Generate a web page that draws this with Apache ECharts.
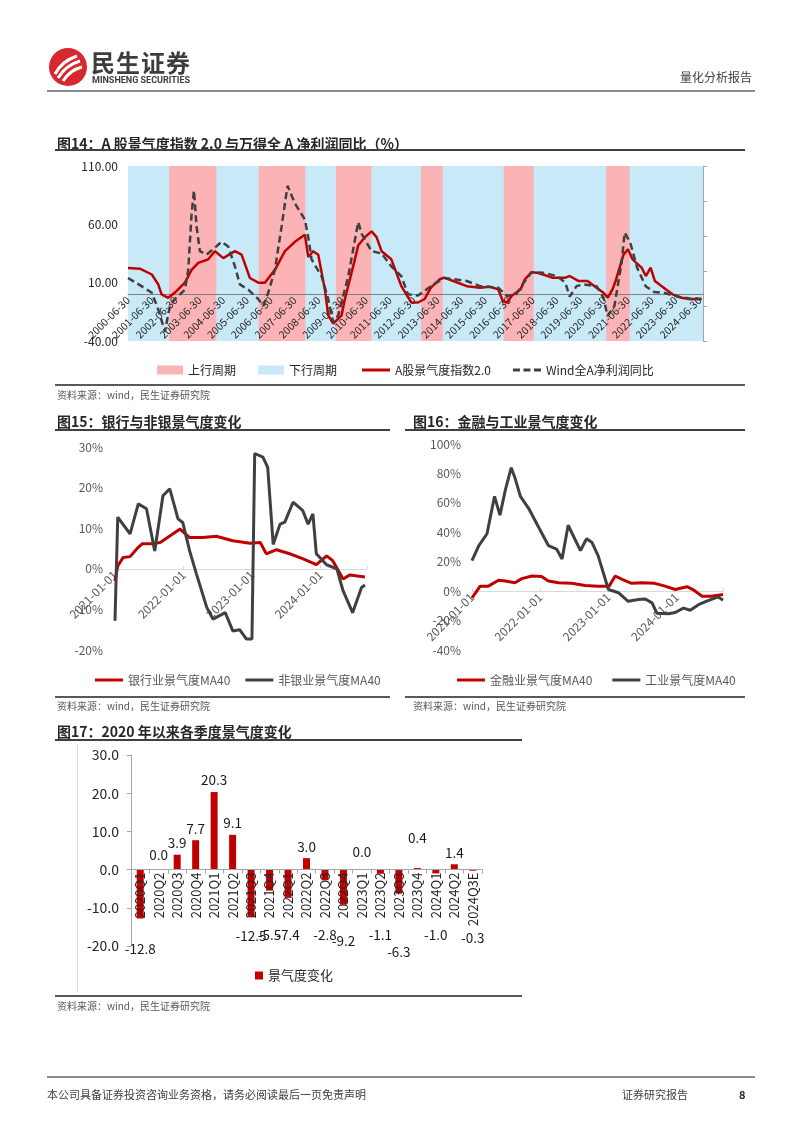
<!DOCTYPE html>
<html><head><meta charset="utf-8">
<script src="https://cdn.jsdelivr.net/npm/echarts/dist/echarts.min.js"></script>
<style>
body{margin:0;width:802px;height:1133px;position:relative;background:#fff;font-family:"Noto Sans CJK SC","Noto Sans",sans-serif;overflow:hidden}
#c{position:absolute;left:0;top:0;width:802px;height:1133px}
.t{position:absolute;white-space:nowrap;line-height:1;z-index:5}
.ln{position:absolute;z-index:5}
.ttl{font-weight:bold;font-size:14px;color:#262626}
.src{font-size:10px;color:#595959}
</style></head>
<body>
<div id="c"></div>
<svg class="ln" style="left:48px;top:47px" width="40" height="40" viewBox="0 0 40 40">
<circle cx="20" cy="20" r="19" fill="#D7282F"/>
<path d="M7 27 Q14 14 29 9" stroke="#fff" stroke-width="3" fill="none"/>
<path d="M10 31 Q18 18 32 14" stroke="#fff" stroke-width="3" fill="none"/>
<path d="M15 34 Q22 23 34 20" stroke="#fff" stroke-width="3" fill="none"/>
</svg>
<div class="t" style="left:91px;top:50px;font-size:24px;font-weight:bold;color:#3d3d3d;letter-spacing:1px">民生证券</div>
<div class="t" style="left:92px;top:76px;font-size:9px;font-weight:bold;color:#3d3d3d;font-family:Roboto,sans-serif">MINSHENG SECURITIES</div>
<div class="t" style="left:680px;top:71px;font-size:12px;color:#404040">量化分析报告</div>
<div class="ln" style="left:47px;top:90px;width:708px;height:2px;background:#8c8c8c"></div>

<div class="t ttl" style="left:57px;top:136px">图14：A 股景气度指数 2.0 与万得全 A 净利润同比（%）</div>
<div class="ln" style="left:55px;top:149px;width:690px;height:1.5px;background:#404040"></div>
<div class="ln" style="left:55px;top:384px;width:690px;height:1.5px;background:#595959"></div>
<div class="t src" style="left:57px;top:390px">资料来源：wind，民生证券研究院</div>

<div class="t ttl" style="left:57px;top:414px">图15：银行与非银景气度变化</div>
<div class="ln" style="left:55px;top:429px;width:335px;height:1.5px;background:#404040"></div>
<div class="ln" style="left:55px;top:696px;width:335px;height:1.5px;background:#595959"></div>
<div class="t src" style="left:57px;top:701px">资料来源：wind，民生证券研究院</div>

<div class="t ttl" style="left:413px;top:414px">图16：金融与工业景气度变化</div>
<div class="ln" style="left:405px;top:429px;width:340px;height:1.5px;background:#404040"></div>
<div class="ln" style="left:405px;top:696px;width:340px;height:1.5px;background:#595959"></div>
<div class="t src" style="left:413px;top:701px">资料来源：wind，民生证券研究院</div>

<div class="t ttl" style="left:57px;top:724px">图17：2020 年以来各季度景气度变化</div>
<div class="ln" style="left:55px;top:739px;width:467px;height:1.5px;background:#404040"></div>
<div class="ln" style="left:77px;top:745px;width:1px;height:248px;background:#d9d9d9"></div>
<div class="ln" style="left:55px;top:995px;width:467px;height:1.5px;background:#595959"></div>
<div class="t src" style="left:57px;top:1001px">资料来源：wind，民生证券研究院</div>

<div class="ln" style="left:47px;top:1076px;width:708px;height:1.5px;background:#8c8c8c"></div>
<div class="t" style="left:47px;top:1089px;font-size:11px;color:#404040">本公司具备证券投资咨询业务资格，请务必阅读最后一页免责声明</div>
<div class="t" style="left:622px;top:1089px;font-size:11px;color:#404040">证券研究报告</div>
<div class="t" style="left:739px;top:1089px;font-size:11px;color:#262626;font-weight:bold">8</div>

<script>
// ---------- Chart 14 data (decimal years) ----------
const upCycles = [[2002.23,2004.21],[2005.99,2007.95],[2009.23,2010.72],[2012.80,2013.72],[2016.28,2017.54],[2020.58,2021.57]];
const idxDates = [2000.50,2001.00,2001.50,2001.77,2001.91,2002.19,2002.47,2002.89,2003.17,2003.45,2003.87,2004.15,2004.50,2004.99,2005.27,2005.62,2005.97,2006.25,2006.67,2007.09,2007.51,2007.93,2008.07,2008.28,2008.49,2008.77,2008.91,2009.12,2009.47,2009.61,2010.03,2010.17,2010.45,2010.73,2010.94,2011.15,2011.56,2011.98,2012.40,2012.68,2012.96,2013.22,2013.59,2013.78,2014.16,2014.73,2015.29,2015.67,2016.05,2016.24,2016.42,2016.61,2016.99,2017.17,2017.45,2017.65,2017.93,2018.31,2018.87,2019.05,2019.43,2019.80,2020.18,2020.47,2020.65,2020.85,2020.98,2021.31,2021.50,2021.69,2022.07,2022.25,2022.45,2022.63,2023.00,2023.37,2023.75,2024.13,2024.59];
const idxValues = [22.5,22,17,8.5,0,-3,1.5,10,21,27,30,37,31,37,34,14,10,10,21,37,45,51,32,37,34,4,-18,-25,-18,-4,30,42,49,54,49,37,30,7,-7,-7,-4,5.7,12.9,14.3,11.4,7,5.7,6.6,4.3,-5.7,-7,-1.4,4.3,12.9,19,18.6,17,14.3,14.3,15.7,11.4,11.4,5.7,1.4,-2.9,4.3,11.4,34,38.6,30,22.9,15.7,22.9,11.4,5.7,0,-2.9,-4.3,-3.7];
const windDates = [2000.50,2001.07,2001.50,2001.77,2002.05,2002.26,2002.47,2002.89,2003.03,2003.17,2003.27,2003.38,2003.52,2003.80,2004.15,2004.43,2004.71,2004.99,2005.20,2005.55,2005.97,2006.18,2006.39,2006.67,2006.95,2007.20,2007.51,2007.93,2008.07,2008.21,2008.63,2008.91,2009.12,2009.33,2009.75,2010.17,2010.31,2010.73,2011.15,2011.56,2011.98,2012.26,2012.68,2012.96,2013.22,2013.78,2014.16,2014.73,2015.29,2016.05,2016.42,2016.80,2017.17,2017.45,2017.93,2018.50,2018.87,2019.05,2019.34,2019.62,2020.18,2020.47,2020.64,2020.93,2021.23,2021.36,2021.60,2021.88,2022.24,2022.60,2023.00,2023.58,2024.13,2024.59];
const windValues = [14,7,1.4,-13,-32,-10,-4,4,21,69,89,58,37,34,40,45,41,24,8.5,4,-4,-10,1.4,21,58,93,78,64,49,30,15.5,-4,-24,-18,15.5,62,52,37,35,24,15.5,0,-1,3,7,14,13,11.4,7,5.7,-1.4,0,11.4,19,18.6,15.7,10,-2,7,8.6,7,-2.9,-18.6,-10,27,53,44,23,7,2,1.4,-2,-3.7,-4.3];

// ---------- Chart 15 data ----------
const bankDates = [2021.00,2021.04,2021.12,2021.22,2021.34,2021.40,2021.55,2021.66,2021.95,2022.09,2022.28,2022.48,2022.72,2022.97,2023.12,2023.21,2023.36,2023.55,2023.74,2023.94,2024.09,2024.18,2024.33,2024.43,2024.65];
const bankValues = [-3,0.7,2.8,3,5.3,6.2,6.2,6.5,9.8,7.7,7.7,8,6.9,6.3,6.5,3.7,4.7,3.7,2.5,1,3.2,2,-2.5,-1.5,-2];
const nonbankDates = [2021.00,2021.04,2021.22,2021.34,2021.46,2021.58,2021.70,2021.80,2021.92,2021.99,2022.09,2022.19,2022.34,2022.43,2022.61,2022.72,2022.82,2022.92,2023.00,2023.04,2023.16,2023.23,2023.31,2023.41,2023.48,2023.60,2023.74,2023.82,2023.89,2023.94,2024.09,2024.24,2024.33,2024.47,2024.60,2024.65];
const nonbankValues = [-12.8,12.7,8.6,16,14.8,4.4,18,19.7,12.3,11.4,4.4,-1.3,-9.5,-12.4,-10.8,-15.3,-15,-17.3,-17.3,28.4,27.5,25,6,11,11.5,16.4,14.4,11,13.5,3.7,1.0,0,-5.4,-10.8,-4.6,-4];

// ---------- Chart 16 data ----------
const finDates = [2021.00,2021.12,2021.24,2021.39,2021.49,2021.63,2021.73,2021.88,2022.02,2022.12,2022.27,2022.46,2022.66,2022.85,2023.01,2023.10,2023.20,2023.34,2023.49,2023.68,2023.83,2023.98,2024.15,2024.24,2024.37,2024.51,2024.68];
const finValues = [-4.6,3.4,3.4,7.4,6.9,5.7,8.5,10.3,9.9,6.9,5.7,5.3,3.9,3.4,3.4,10.3,8,5.3,5.7,5.3,3.4,1.1,3,1.1,-3.4,-3.4,-2.3];
const indDates = [2021.00,2021.10,2021.22,2021.33,2021.41,2021.49,2021.575,2021.63,2021.71,2021.83,2021.975,2022.12,2022.24,2022.32,2022.41,2022.59,2022.68,2022.76,2022.85,2023.00,2023.15,2023.29,2023.44,2023.54,2023.64,2023.71,2023.88,2023.98,2024.10,2024.20,2024.32,2024.46,2024.61,2024.68];
const indValues = [20.7,31,39,64.4,51.7,69,83.9,77,64.4,56.3,43.6,31,28.6,21.8,44.8,27.6,35.6,33,24,1.1,-1.1,-6.9,-5.7,-5.3,-8,-15,-15.4,-14.5,-11.5,-13,-9.2,-6.4,-3.9,-6.2];

// ---------- Chart 17 data ----------
const quarters = ['2020Q1','2020Q2','2020Q3','2020Q4','2021Q1','2021Q2','2021Q3','2021Q4','2022Q1','2022Q2','2022Q3','2022Q4','2023Q1','2023Q2','2023Q3','2023Q4','2024Q1','2024Q2','2024Q3E'];
const quarterChange = [-12.8,0.0,3.9,7.7,20.3,9.1,-12.5,-5.5,-7.4,3.0,-2.8,-9.2,0.0,-1.1,-6.3,0.4,-1.0,1.4,-0.3];

// ---------- helpers ----------
const base14 = 2000.5;
const zip = (xs, ys, off) => xs.map((x, i) => [+(x - (off||0)).toFixed(4), ys[i]]);
const isInt = v => Math.abs(v - Math.round(v)) < 1e-6;
const FONT = '"Noto Sans CJK SC","Noto Sans",sans-serif';
const RED = '#C00000', DARK = '#404040', PINK = '#FBB3B6', BLUE = '#C8EAF8';
const SOLID_ICON = 'path://M0,0H28V3H0Z';
const DASH_ICON = 'path://M0,0H7V3H0Z M10.5,0H17.5V3H10.5Z M21,0H28V3H21Z';

const chart = echarts.init(document.getElementById('c'), null, {renderer:'canvas'});

const lineAxisX = (gi, min, max, fmt, lineColor, fs, color) => ({
  type:'value', gridIndex:gi, min, max, interval:1, z:10,
  axisLine:{show:true, onZero:false, lineStyle:{color:lineColor, width:1}},
  axisTick:{show:false}, splitLine:{show:false},
  axisLabel:{rotate:45, fontSize:fs, color, margin:4, fontFamily:FONT, formatter:fmt}
});

const option = {
  animation:false,
  textStyle:{fontFamily:FONT},
  grid:[
    {left:128, top:166, width:575, height:175},
    {left:115, top:447, width:252, height:203},
    {left:472, top:444, width:251, height:206},
    {left:131, top:755, width:351, height:191}
  ],
  xAxis:[
    Object.assign(lineAxisX(0, 0, 24.15, v => isInt(v) ? (2000 + Math.round(v)) + '-06-30' : '', '#7f7f7f', 10.5, '#262626'),
      {z:3, axisLine:{show:true, onZero:false, lineStyle:{color:'#7f7f7f', width:1.2}}}),
    Object.assign(lineAxisX(1, 2021, 2024.68, v => isInt(v) ? Math.round(v) + '-01-01' : '', '#d9d9d9', 12, '#595959'),
      {z:0, axisTick:{show:true, inside:true, length:3, lineStyle:{color:'#d9d9d9'}}}),
    Object.assign(lineAxisX(2, 2021, 2024.68, v => isInt(v) ? Math.round(v) + '-01-01' : '', '#d9d9d9', 12, '#595959'),
      {z:0, axisTick:{show:true, inside:true, length:3, lineStyle:{color:'#d9d9d9'}}}),
    {type:'category', gridIndex:3, data:quarters, z:10,
     axisLine:{show:true, onZero:false, lineStyle:{color:'#a6a6a6'}},
     axisTick:{show:true, length:4, lineStyle:{color:'#a6a6a6'}},
     axisLabel:{rotate:90, interval:0, fontSize:13, color:'#262626', margin:3, fontFamily:FONT}}
  ],
  yAxis:[
    {type:'value', gridIndex:0, min:-40, max:110, interval:50,
     axisLine:{show:false}, axisTick:{show:false}, splitLine:{show:false},
     axisLabel:{fontSize:12, color:'#262626', margin:10, formatter:v => v.toFixed(2)}},
    {type:'value', gridIndex:0, position:'right', min:0, max:5, interval:1,
     axisLine:{show:true, lineStyle:{color:'#a6a6a6'}}, axisTick:{show:true, length:4, lineStyle:{color:'#a6a6a6'}},
     axisLabel:{show:false}, splitLine:{show:false}},
    {type:'value', gridIndex:1, min:-20, max:30, interval:10,
     axisLine:{show:false}, axisTick:{show:false}, splitLine:{show:false},
     axisLabel:{fontSize:12, color:'#595959', margin:12, formatter:v => v + '%'}},
    {type:'value', gridIndex:2, min:-40, max:100, interval:20,
     axisLine:{show:false}, axisTick:{show:false}, splitLine:{show:false},
     axisLabel:{fontSize:12, color:'#595959', margin:11, formatter:v => v + '%'}},
    {type:'value', gridIndex:3, min:-20, max:30, interval:10,
     axisLine:{show:true, lineStyle:{color:'#a6a6a6'}}, axisTick:{show:true, length:4, lineStyle:{color:'#a6a6a6'}},
     splitLine:{show:false},
     axisLabel:{fontSize:14, color:'#262626', margin:12, formatter:v => v.toFixed(1)}}
  ],
  legend:[
    {left:152, top:359, itemWidth:26, itemHeight:9, itemGap:22, icon:'rect',
     textStyle:{fontSize:12, color:'#262626'}, data:['上行周期','下行周期']},
    {left:357, top:359, itemWidth:28, itemHeight:3, itemGap:22,
     textStyle:{fontSize:12, color:'#262626'},
     data:[{name:'A股景气度指数2.0', icon:SOLID_ICON},{name:'Wind全A净利润同比', icon:DASH_ICON}]},
    {left:90, top:669, itemWidth:28, itemHeight:3, itemGap:15,
     textStyle:{fontSize:12, color:'#595959'},
     data:[{name:'银行业景气度MA40', icon:SOLID_ICON},{name:'非银业景气度MA40', icon:SOLID_ICON}]},
    {left:452, top:669, itemWidth:28, itemHeight:3, itemGap:20,
     textStyle:{fontSize:12, color:'#595959'},
     data:[{name:'金融业景气度MA40', icon:SOLID_ICON},{name:'工业景气度MA40', icon:SOLID_ICON}]},
    {left:250, top:964, itemWidth:8, itemHeight:8, icon:'rect',
     textStyle:{fontSize:13, color:'#262626'}, data:['景气度变化']}
  ],
  series:[
    {name:'下行周期', type:'line', xAxisIndex:0, yAxisIndex:0, data:[], z:1, color:BLUE, itemStyle:{color:BLUE},
     markArea:{silent:true, itemStyle:{color:BLUE, opacity:1}, data:[[{xAxis:0},{xAxis:24.15}]]}},
    {name:'上行周期', type:'line', xAxisIndex:0, yAxisIndex:0, data:[], z:2, color:PINK, itemStyle:{color:PINK},
     markArea:{silent:true, itemStyle:{color:PINK, opacity:1}, data:upCycles.map(c => [{xAxis:c[0]-base14},{xAxis:c[1]-base14}])}},
    {name:'A股景气度指数2.0', type:'line', xAxisIndex:0, yAxisIndex:0, z:4, showSymbol:false, symbol:'none',
     color:RED, lineStyle:{color:RED, width:2.5}, data:zip(idxDates, idxValues, base14)},
    {name:'Wind全A净利润同比', type:'line', xAxisIndex:0, yAxisIndex:0, z:5, showSymbol:false, symbol:'none',
     color:DARK, lineStyle:{color:DARK, width:2.5, type:[7,4]}, data:zip(windDates, windValues, base14)},

    {name:'银行业景气度MA40', type:'line', xAxisIndex:1, yAxisIndex:2, symbol:'none', color:RED,
     lineStyle:{color:RED, width:3}, data:zip(bankDates, bankValues)},
    {name:'非银业景气度MA40', type:'line', xAxisIndex:1, yAxisIndex:2, symbol:'none', color:DARK,
     lineStyle:{color:DARK, width:3}, data:zip(nonbankDates, nonbankValues)},

    {name:'金融业景气度MA40', type:'line', xAxisIndex:2, yAxisIndex:3, symbol:'none', color:RED,
     lineStyle:{color:RED, width:3}, data:zip(finDates, finValues)},
    {name:'工业景气度MA40', type:'line', xAxisIndex:2, yAxisIndex:3, symbol:'none', color:DARK,
     lineStyle:{color:DARK, width:3}, data:zip(indDates, indValues)},

    {name:'景气度变化', type:'bar', xAxisIndex:3, yAxisIndex:4, barWidth:7, color:RED, itemStyle:{color:RED},
     data:quarterChange.slice(),
     label:{show:true, position:'top', distance:5, fontSize:13.5, color:'#1a1a1a', formatter:p => p.value.toFixed(1)}}
  ]
};
chart.setOption(option);

// second pass 1: move each x axis up to the zero line of its value axis
const yIdxOfGrid = [0, 2, 3, 4];
const yMinOfGrid = [-40, -20, -40, -20];
const xOffsets = yIdxOfGrid.map((yi, g) => {
  const zero = chart.convertToPixel({yAxisIndex:yi}, 0);
  const bottom = chart.convertToPixel({yAxisIndex:yi}, yMinOfGrid[g]);
  return -(bottom - zero);
});

// second pass 2: place bar labels (negatives below the rotated category labels, as in the original)
const negLabelLevel = -17.2;
const extraDrop = {'2020Q1':14,'2021Q3':1,'2022Q4':6,'2023Q3':17,'2024Q3E':3};
const extraLift = {'2023Q4':-18,'2023Q1':-6,'2020Q2':-3};
const toPx = (cat, v) => chart.convertToPixel({xAxisIndex:3, yAxisIndex:4}, [cat, v])[1];
const levelPx = toPx(0, negLabelLevel);
const barData = quarterChange.map((v, i) => {
  const q = quarters[i];
  if (v < 0) {
    const endPx = toPx(i, v);
    const dy = levelPx + (extraDrop[q] || 0) - (endPx + 7);
    return {value:v, label:{position:'bottom', distance:0, offset:[0, dy]}};
  }
  return {value:v, label:{offset:[0, extraLift[q] || 0]}};
});
chart.setOption({
  xAxis: xOffsets.map(o => ({offset:o})),
  series:[{}, {}, {}, {}, {}, {}, {}, {}, {data:barData}]
});
</script>
</body></html>
